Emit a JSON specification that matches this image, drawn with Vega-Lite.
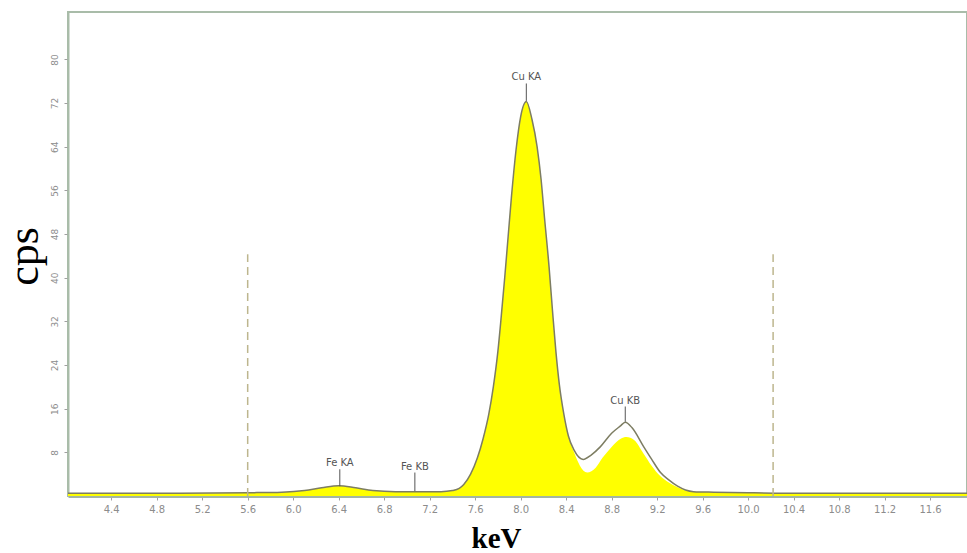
{
  "$schema": "https://vega.github.io/schema/vega-lite/v6.json",
  "width": 899,
  "height": 484,
  "autosize": "none",
  "padding": {"left": 68, "top": 12, "right": 0, "bottom": 57},
  "background": "white",
  "config": {
    "view": {"stroke": "#a9bca9", "strokeWidth": 2},
    "axis": {"grid": false, "zindex": 1}
  },
  "datasets": {
    "line": [
      {"keV": 4.02, "cps": 0.5}, {"keV": 4.4, "cps": 0.5}, {"keV": 5.0, "cps": 0.5}, {"keV": 5.6, "cps": 0.6},
      {"keV": 5.9, "cps": 0.7}, {"keV": 6.1, "cps": 1.0}, {"keV": 6.25, "cps": 1.5}, {"keV": 6.4, "cps": 1.9},
      {"keV": 6.55, "cps": 1.5}, {"keV": 6.7, "cps": 1.0}, {"keV": 6.9, "cps": 0.8}, {"keV": 7.1, "cps": 0.8},
      {"keV": 7.3, "cps": 0.8}, {"keV": 7.4, "cps": 1.0}, {"keV": 7.46, "cps": 1.4}, {"keV": 7.5, "cps": 2.1},
      {"keV": 7.56, "cps": 4}, {"keV": 7.62, "cps": 7}, {"keV": 7.67, "cps": 10.5}, {"keV": 7.72, "cps": 15},
      {"keV": 7.76, "cps": 20}, {"keV": 7.8, "cps": 26.5}, {"keV": 7.83, "cps": 33}, {"keV": 7.86, "cps": 40},
      {"keV": 7.89, "cps": 47.5}, {"keV": 7.92, "cps": 55}, {"keV": 7.96, "cps": 63.5}, {"keV": 8.0, "cps": 69.5},
      {"keV": 8.05, "cps": 72.3}, {"keV": 8.1, "cps": 69},
      {"keV": 8.145, "cps": 64}, {"keV": 8.18, "cps": 58}, {"keV": 8.21, "cps": 51}, {"keV": 8.25, "cps": 42},
      {"keV": 8.28, "cps": 34}, {"keV": 8.31, "cps": 26.5}, {"keV": 8.34, "cps": 20.5}, {"keV": 8.38, "cps": 15},
      {"keV": 8.42, "cps": 11}, {"keV": 8.47, "cps": 8.4}, {"keV": 8.55, "cps": 6.7}, {"keV": 8.62, "cps": 7.5},
      {"keV": 8.7, "cps": 9}, {"keV": 8.8, "cps": 11.5}, {"keV": 8.875, "cps": 12.8}, {"keV": 8.92, "cps": 13.5},
      {"keV": 8.98, "cps": 12.5}, {"keV": 9.08, "cps": 9.1}, {"keV": 9.15, "cps": 6.8}, {"keV": 9.23, "cps": 4.3},
      {"keV": 9.3, "cps": 3}, {"keV": 9.38, "cps": 1.8}, {"keV": 9.45, "cps": 1.1}, {"keV": 9.52, "cps": 0.8},
      {"keV": 9.7, "cps": 0.7}, {"keV": 10.0, "cps": 0.6}, {"keV": 10.5, "cps": 0.5}, {"keV": 11.925, "cps": 0.5}
    ],
    "fill": [
      {"keV": 4.02, "cps": 0.5}, {"keV": 4.4, "cps": 0.5}, {"keV": 5.0, "cps": 0.5}, {"keV": 5.6, "cps": 0.6},
      {"keV": 5.9, "cps": 0.7}, {"keV": 6.1, "cps": 1.0}, {"keV": 6.25, "cps": 1.5}, {"keV": 6.4, "cps": 1.9},
      {"keV": 6.55, "cps": 1.5}, {"keV": 6.7, "cps": 1.0}, {"keV": 6.9, "cps": 0.8}, {"keV": 7.1, "cps": 0.8},
      {"keV": 7.3, "cps": 0.8}, {"keV": 7.4, "cps": 1.0}, {"keV": 7.46, "cps": 1.4}, {"keV": 7.5, "cps": 2.1},
      {"keV": 7.56, "cps": 4}, {"keV": 7.62, "cps": 7}, {"keV": 7.67, "cps": 10.5}, {"keV": 7.72, "cps": 15},
      {"keV": 7.76, "cps": 20}, {"keV": 7.8, "cps": 26.5}, {"keV": 7.83, "cps": 33}, {"keV": 7.86, "cps": 40},
      {"keV": 7.89, "cps": 47.5}, {"keV": 7.92, "cps": 55}, {"keV": 7.96, "cps": 63.5}, {"keV": 8.0, "cps": 69.5},
      {"keV": 8.05, "cps": 72.3}, {"keV": 8.1, "cps": 69},
      {"keV": 8.145, "cps": 64}, {"keV": 8.18, "cps": 58}, {"keV": 8.21, "cps": 51}, {"keV": 8.25, "cps": 42},
      {"keV": 8.28, "cps": 34}, {"keV": 8.31, "cps": 26.5}, {"keV": 8.34, "cps": 20.5}, {"keV": 8.38, "cps": 15},
      {"keV": 8.42, "cps": 11}, {"keV": 8.47, "cps": 8}, {"keV": 8.52, "cps": 5.6}, {"keV": 8.585, "cps": 4.3},
      {"keV": 8.66, "cps": 5.2}, {"keV": 8.72, "cps": 7}, {"keV": 8.8, "cps": 9}, {"keV": 8.88, "cps": 10.5},
      {"keV": 8.93, "cps": 10.8}, {"keV": 9.0, "cps": 10.2}, {"keV": 9.08, "cps": 7.8}, {"keV": 9.15, "cps": 5.6},
      {"keV": 9.23, "cps": 3.6}, {"keV": 9.3, "cps": 2.5}, {"keV": 9.38, "cps": 1.6}, {"keV": 9.45, "cps": 1.0},
      {"keV": 9.52, "cps": 0.8}, {"keV": 9.7, "cps": 0.7}, {"keV": 10.0, "cps": 0.6}, {"keV": 10.5, "cps": 0.5},
      {"keV": 11.925, "cps": 0.5}
    ],
    "dash": [
      {"keV": 5.6, "cps": 0, "cps2": 44.3},
      {"keV": 10.22, "cps": 0, "cps2": 44.3}
    ],
    "peaks": [
      {"label": "Fe KA", "keV": 6.41, "cps": 1.8, "cps2": 4.9},
      {"label": "Fe KB", "keV": 7.07, "cps": 0.9, "cps2": 4.3},
      {"label": "Cu KA", "keV": 8.05, "cps": 72.4, "cps2": 75.6},
      {"label": "Cu KB", "keV": 8.92, "cps": 13.6, "cps2": 16.4}
    ],
    "labels": [
      {"label": "Fe KA", "keV": 6.41, "cps": 4.9},
      {"label": "Fe KB", "keV": 7.07, "cps": 4.3},
      {"label": "Cu KA", "keV": 8.05, "cps": 75.6},
      {"label": "Cu KB", "keV": 8.92, "cps": 16.4}
    ]
  },
  "encoding": {
    "x": {
      "field": "keV", "type": "quantitative",
      "scale": {"domain": [4.02, 11.925], "nice": false, "zero": false},
      "axis": {
        "values": [4.4, 4.8, 5.2, 5.6, 6.0, 6.4, 6.8, 7.2, 7.6, 8.0, 8.4, 8.8, 9.2, 9.6, 10.0, 10.4, 10.8, 11.2, 11.6],
        "format": ".1f",
        "labelColor": "#8c8c8c", "labelFont": "DejaVu Sans", "labelFontSize": 10, "labelPadding": 4,
        "tickColor": "#a0a0a0", "tickSize": 4,
        "domainColor": "#a3b5a3", "domainWidth": 3,
        "title": "keV", "titleFont": "Liberation Serif", "titleFontSize": 29, "titleFontWeight": "bold",
        "titleColor": "#000000", "titleX": 428, "titleY": 51, "titleBaseline": "alphabetic", "titleAlign": "center"
      }
    },
    "y": {
      "field": "cps", "type": "quantitative",
      "scale": {"domain": [0, 88.7], "nice": false, "zero": false},
      "axis": {
        "values": [8, 16, 24, 32, 40, 48, 56, 64, 72, 80],
        "labelAngle": -90,
        "labelColor": "#8c8c8c", "labelFont": "DejaVu Sans", "labelFontSize": 9, "labelPadding": 5,
        "tickColor": "#a0a0a0", "tickSize": 4,
        "domainColor": "#a9bca9", "domainWidth": 2,
        "title": "cps", "titleFont": "Liberation Serif", "titleFontSize": 44, "titleFontWeight": "normal",
        "titleColor": "#000000", "titleAngle": -90, "titleX": -31, "titleY": 244, "titleBaseline": "alphabetic", "titleAlign": "center"
      }
    }
  },
  "layer": [
    {
      "data": {"name": "fill"},
      "mark": {"type": "area", "color": "#ffff00", "opacity": 1, "interpolate": "monotone"}
    },
    {
      "data": {"name": "line"},
      "mark": {"type": "line", "color": "#7d7d62", "strokeWidth": 1.5, "interpolate": "monotone"}
    },
    {
      "data": {"name": "dash"},
      "mark": {"type": "rule", "color": "#bdb68e", "strokeWidth": 1.5, "strokeDash": [8, 5]},
      "encoding": {"y2": {"field": "cps2"}}
    },
    {
      "data": {"name": "peaks"},
      "mark": {"type": "rule", "color": "#555555", "strokeWidth": 1},
      "encoding": {"y2": {"field": "cps2"}}
    },
    {
      "data": {"name": "labels"},
      "mark": {"type": "text", "color": "#555555", "font": "DejaVu Sans", "fontSize": 10, "baseline": "bottom", "align": "center", "dy": -1},
      "encoding": {
        "text": {"field": "label"}
      }
    }
  ]
}
